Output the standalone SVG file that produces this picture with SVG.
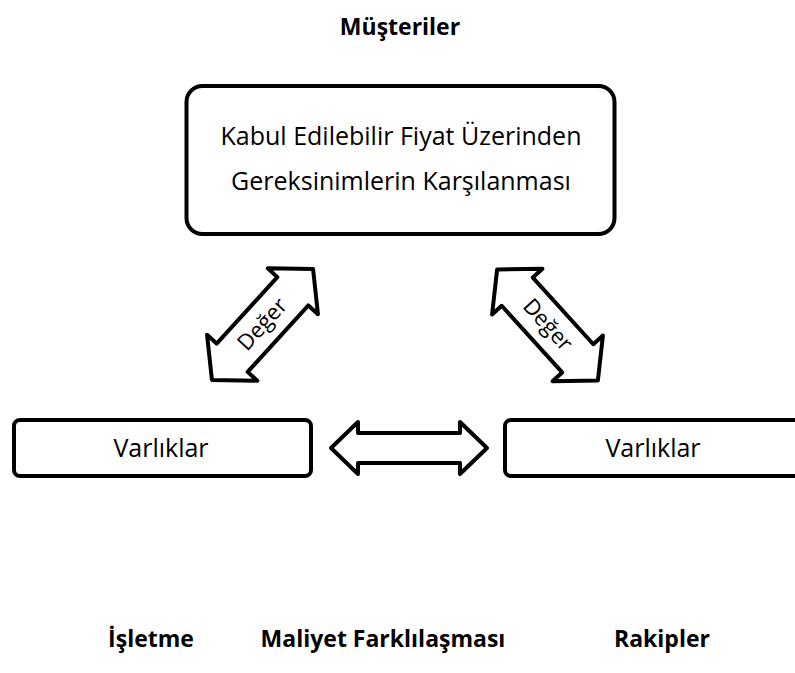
<svg xmlns="http://www.w3.org/2000/svg" width="795" height="673" viewBox="0 0 795 673">
  <style>
    .box { fill: #ffffff; stroke: #000000; stroke-width: 4; }
    .arrow { fill: #ffffff; stroke: #000000; stroke-width: 4; stroke-linejoin: round; }
    .txt { font-family: "Open Sans", "Noto Sans", "DejaVu Sans", sans-serif; font-size: 25px; fill: #000000; text-anchor: middle; }
    .lbl { font-family: "Open Sans", "Noto Sans", "DejaVu Sans", sans-serif; font-size: 23px; font-weight: bold; fill: #000000; text-anchor: middle; }
    .val { font-family: "Open Sans", "Noto Sans", "DejaVu Sans", sans-serif; font-size: 22px; fill: #000000; text-anchor: middle; }
  </style>
  <defs>
    <!-- double-headed block arrows, centred on the origin -->
    <polygon id="dbl-diag" points="-75,0 -45,-34 -45,-21 45,-21 45,-34 75,0 45,34 45,21 -45,21 -45,34"/>
    <polygon id="dbl-horiz" points="-78,0 -51,-26 -51,-15 51,-15 51,-26 78,0 51,26 51,15 -51,15 -51,26"/>
  </defs>

  <rect width="795" height="673" fill="#ffffff"/>

  <!-- section labels -->
  <g id="label-musteriler"><text class="lbl" x="400" y="35">Müşteriler</text></g>
  <g id="label-isletme"><text class="lbl" x="151" y="647">İşletme</text></g>
  <g id="label-maliyet"><text class="lbl" x="383" y="647">Maliyet Farklılaşması</text></g>
  <g id="label-rakipler"><text class="lbl" x="662" y="647">Rakipler</text></g>

  <!-- customer needs -->
  <g id="node-needs">
    <rect class="box" x="186.5" y="86" width="428" height="148" rx="16" ry="16"/>
    <text class="txt" x="401" y="145">Kabul Edilebilir Fiyat Üzerinden</text>
    <text class="txt" x="401" y="190">Gereksinimlerin Karşılanması</text>
  </g>

  <!-- firm assets -->
  <g id="node-assets-firm">
    <rect class="box" x="14" y="420" width="297" height="56" rx="6" ry="6"/>
    <text class="txt" x="161" y="457">Varlıklar</text>
  </g>

  <!-- competitor assets -->
  <g id="node-assets-rivals">
    <rect class="box" x="505" y="420" width="300" height="56" rx="6" ry="6"/>
    <text class="txt" x="653" y="457">Varlıklar</text>
  </g>

  <!-- connectors -->
  <g id="connectors">
    <g transform="translate(262.5,324.5) rotate(-47.6)">
      <use href="#dbl-diag" class="arrow"/>
      <text class="val" x="0" y="7">Değer</text>
    </g>
    <g transform="translate(547.5,325) rotate(47.8)">
      <use href="#dbl-diag" class="arrow"/>
      <text class="val" x="0" y="7">Değer</text>
    </g>
    <g transform="translate(409,448)">
      <use href="#dbl-horiz" class="arrow"/>
    </g>
  </g>
</svg>
